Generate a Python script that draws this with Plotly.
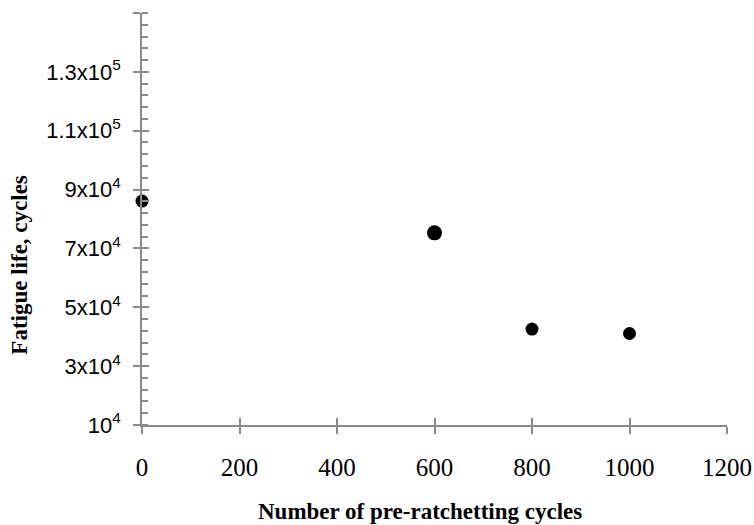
import plotly.graph_objects as go

# Data
pre_cycles = [0, 600, 800, 1000]
fatigue_life = [86100, 75300, 42600, 41100]

# Axis tick definitions
x_ticks = [0, 200, 400, 600, 800, 1000, 1200]
y_ticks = [10000, 30000, 50000, 70000, 90000, 110000, 130000, 150000]
y_tick_text = ["10<sup>4</sup>", "3x10<sup>4</sup>", "5x10<sup>4</sup>", "7x10<sup>4</sup>",
               "9x10<sup>4</sup>", "1.1x10<sup>5</sup>", "1.3x10<sup>5</sup>", ""]

marker_sizes = [13, 15, 13, 13]
axis_col = "#8a8a8a"

fig = go.Figure()
fig.add_trace(go.Scatter(
    x=pre_cycles, y=fatigue_life, mode="markers",
    marker=dict(color="#000000", size=marker_sizes, opacity=1, line=dict(width=0)),
    opacity=1, cliponaxis=False, showlegend=False))

x_range = [0, 1200]
y_range = [10000, 150000]

fig.update_layout(
    width=754, height=525,
    margin=dict(l=142, r=27, t=13, b=100),
    plot_bgcolor="white", paper_bgcolor="white",
    xaxis=dict(
        range=x_range, tickvals=x_ticks, ticktext=[str(v) for v in x_ticks],
        showgrid=False, zeroline=False, showline=True, linecolor=axis_col, linewidth=1.5,
        ticks="outside", ticklen=7, tickwidth=1.5, tickcolor=axis_col,
        tickfont=dict(family="Liberation Serif", size=25, color="black"),
        ticklabelstandoff=12, automargin=False,
    ),
    yaxis=dict(
        range=y_range, tickvals=y_ticks, ticktext=y_tick_text,
        showgrid=False, zeroline=False, showline=True, linecolor=axis_col, linewidth=1.5,
        ticks="outside", ticklen=7, tickwidth=1.5, tickcolor=axis_col,
        tickfont=dict(family="Liberation Sans", size=22, color="black"),
        ticklabelstandoff=8, automargin=False,
        minor=dict(tickmode="linear", tick0=10000, dtick=4000, ticks="inside",
                   ticklen=6, tickwidth=1.5, tickcolor=axis_col),
    ),
    xaxis2=dict(
        range=x_range, tickvals=x_ticks, overlaying="x", anchor="y", side="bottom",
        showgrid=False, zeroline=False, showline=False, showticklabels=False,
        ticks="inside", ticklen=7, tickwidth=1.5, tickcolor=axis_col, automargin=False,
    ),
    yaxis2=dict(
        range=y_range, tickvals=y_ticks, overlaying="y", anchor="x", side="left",
        showgrid=False, zeroline=False, showline=False, showticklabels=False,
        ticks="inside", ticklen=7, tickwidth=1.5, tickcolor=axis_col, automargin=False,
    ),
    annotations=[
        dict(text="<b>Number of pre-ratchetting cycles</b>", xref="paper", yref="paper",
             x=0.4746, y=-0.2095, xanchor="center", yanchor="middle", showarrow=False,
             font=dict(family="Liberation Serif", size=23, color="black")),
        dict(text="<b>Fatigue life, cycles</b>", xref="paper", yref="paper",
             x=-0.2087, y=0.389, xanchor="center", yanchor="middle", textangle=-90,
             showarrow=False, font=dict(family="Liberation Serif", size=23, color="black")),
    ],
)

# invisible trace so the overlay axes render
fig.add_trace(go.Scatter(x=[None], y=[None], xaxis="x2", yaxis="y2", showlegend=False, hoverinfo="skip"))

fig.write_html("out.html")
